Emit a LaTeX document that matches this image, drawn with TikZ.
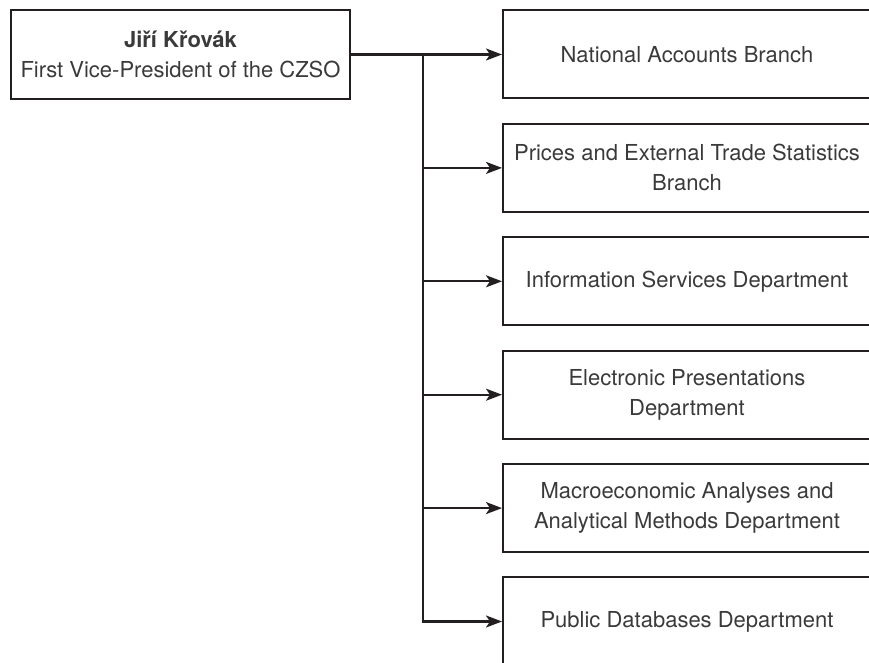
\documentclass[tikz,border=0pt]{standalone}
\usepackage{fontspec}
\setmainfont{TeX Gyre Heros}
\usepackage{tikz}
\usetikzlibrary{arrows.meta}
\usetikzlibrary{positioning}

\definecolor{linegray}{HTML}{231F20}
\definecolor{textgray}{HTML}{3A3A3A}

\tikzset{
  headbox/.style={draw=linegray,line width=1pt,rectangle,align=center,
    minimum width=169.5pt,minimum height=44.5pt,inner sep=0pt,
    text=textgray,font=\fontsize{11}{15}\selectfont},
  deptbox/.style={draw=linegray,line width=1pt,rectangle,align=center,
    minimum width=184pt,minimum height=44pt,inner sep=0pt,
    text=textgray,font=\fontsize{11}{15}\selectfont},
  link/.style={draw=linegray,line width=1.1pt,-{Stealth[length=8pt,width=6pt,inset=2pt]}}
}

\begin{document}
\begin{tikzpicture}[x=0.5pt,y=-0.5pt,node distance=11.7pt]

  \useasboundingbox (0,0) rectangle (869,663);

  \node [headbox] (VP) at (180.5,54.5) {\textbf{Jiří Křovák}\\First Vice-President of the CZSO};

  \node [deptbox,anchor=west] (NA) at (502,54.5) {National Accounts Branch};
  \node [deptbox,below=of NA] (PT) {Prices and External Trade Statistics\\Branch};
  \node [deptbox,below=of PT] (IS) {Information Services Department};
  \node [deptbox,below=of IS] (EP) {Electronic Presentations\\Department};
  \node [deptbox,below=of EP] (MA) {Macroeconomic Analyses and\\Analytical Methods Department};
  \node [deptbox,below=of MA] (PD) {Public Databases Department};

  \coordinate (split) at (423,54.5);

  \path
    (VP.east)          edge [link] (NA.west)
    (split |- PT.west) edge [link] (PT.west)
    (split |- IS.west) edge [link] (IS.west)
    (split |- EP.west) edge [link] (EP.west)
    (split |- MA.west) edge [link] (MA.west);

  \draw [link] (split) |- (PD.west);

\end{tikzpicture}
\end{document}
